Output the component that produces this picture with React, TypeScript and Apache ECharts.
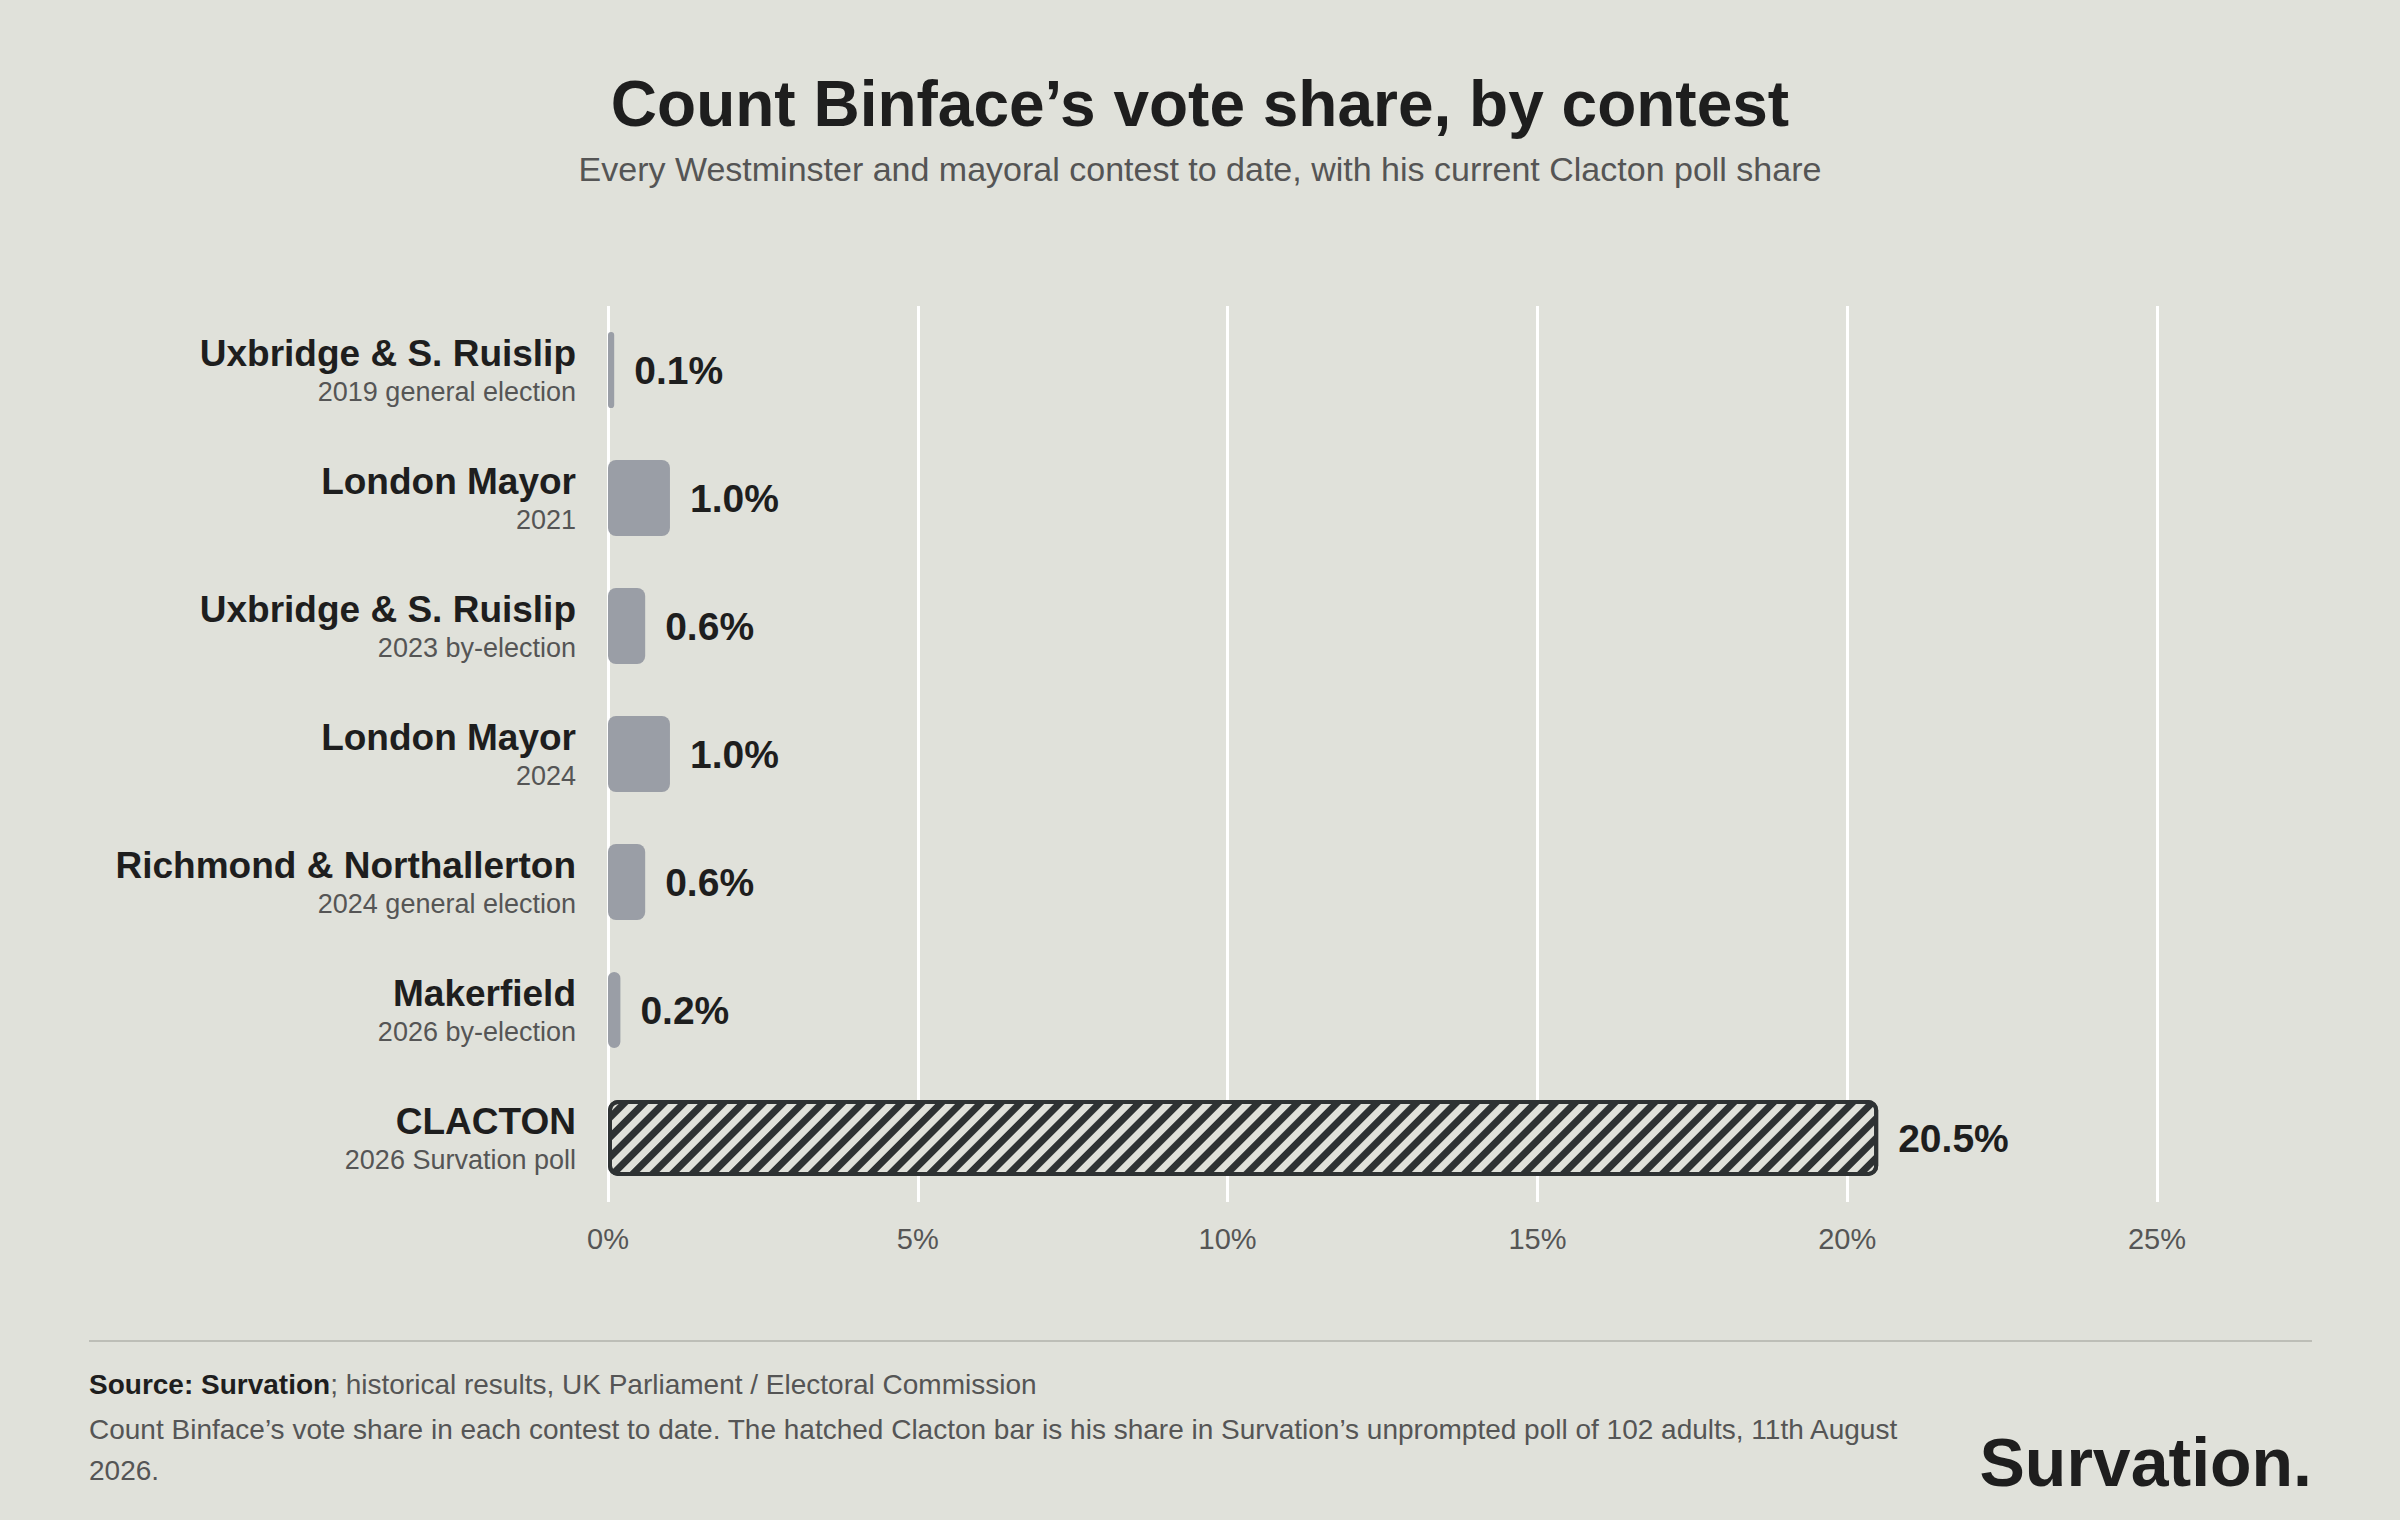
import { useEffect, useRef } from "react";
import * as echarts from "echarts";

const contests = [
  "Uxbridge & S. Ruislip",
  "London Mayor",
  "Uxbridge & S. Ruislip",
  "London Mayor",
  "Richmond & Northallerton",
  "Makerfield",
  "CLACTON",
];
const subtitles = [
  "2019 general election",
  "2021",
  "2023 by-election",
  "2024",
  "2024 general election",
  "2026 by-election",
  "2026 Survation poll",
];
const shares = [0.1, 1.0, 0.6, 1.0, 0.6, 0.2, 20.5];

const BG = "#e0e1da";
const FONT = "'Liberation Sans', Arial, sans-serif";

export default function App() {
  const ref = useRef<HTMLDivElement | null>(null);

  useEffect(() => {
    document.body.style.margin = "0";
    if (!ref.current) return;
    const chart = echarts.init(ref.current, null, { renderer: "svg" });
    const last = shares.length - 1;
    chart.setOption({
      animation: false,
      backgroundColor: BG,
      aria: { enabled: true, decal: { show: true } },
      textStyle: { fontFamily: FONT },
      grid: { left: 608, right: 243, top: 306, bottom: 318 },
      xAxis: {
        type: "value",
        min: 0,
        max: 25,
        interval: 5,
        axisLine: { show: false },
        axisTick: { show: false },
        splitLine: { lineStyle: { color: "#ffffff", width: 3 } },
        axisLabel: { formatter: "{value}%", fontSize: 29, color: "#555555", margin: 22, fontFamily: FONT },
      },
      yAxis: {
        type: "category",
        inverse: true,
        data: contests,
        axisLine: { show: false },
        axisTick: { show: false },
        axisLabel: {
          margin: 32,
          align: "right",
          formatter: (v: string, i: number) => `{a|${v}}\n{b|${subtitles[i]}}`,
          rich: {
            a: { fontSize: 37, fontWeight: "bold", color: "#1e1e1e", lineHeight: 44, align: "right", fontFamily: FONT },
            b: { fontSize: 27, color: "#555555", lineHeight: 34, align: "right", fontFamily: FONT },
          },
        },
      },
      series: [
        {
          type: "bar",
          barWidth: 76,
          data: shares.map((v, i) =>
            i === last
              ? {
                  value: v,
                  itemStyle: {
                    color: BG,
                    borderColor: "#2e3233",
                    borderWidth: 4,
                    borderRadius: 8,
                    decal: {
                      symbol: "rect",
                      color: "#2e3233",
                      backgroundColor: BG,
                      dashArrayX: [1, 0],
                      dashArrayY: [7, 7],
                      rotation: -Math.PI / 4,
                    },
                  },
                }
              : { value: v, itemStyle: { color: "#9a9ea6", borderRadius: 8, decal: "none" } }
          ),
          label: {
            show: true,
            position: "right",
            distance: 20,
            formatter: (p: any) => `${p.value.toFixed(1)}%`,
            fontSize: 39,
            fontWeight: "bold",
            color: "#1e1e1e",
            fontFamily: FONT,
          },
        },
      ],
      graphic: [
        {
          type: "text",
          left: "center",
          top: 72,
          style: { text: "Count Binface’s vote share, by contest", fontSize: 64, fontWeight: "bold", fill: "#1e1e1e", fontFamily: FONT },
        },
        {
          type: "text",
          left: "center",
          top: 152,
          style: {
            text: "Every Westminster and mayoral contest to date, with his current Clacton poll share",
            fontSize: 34,
            fill: "#555555",
            fontFamily: FONT,
          },
        },
        {
          type: "line",
          shape: { x1: 89, y1: 1341, x2: 2312, y2: 1341 },
          style: { stroke: "#bdbeb7", lineWidth: 2 },
        },
        {
          type: "text",
          left: 89,
          top: 1370,
          style: {
            text: "{s|Source: Survation}{t|; historical results, UK Parliament / Electoral Commission}",
            rich: {
              s: { fontSize: 28, fontWeight: "bold", fill: "#1e1e1e", fontFamily: FONT },
              t: { fontSize: 28, fill: "#555555", fontFamily: FONT },
            },
          },
        },
        {
          type: "text",
          left: 89,
          top: 1409,
          style: {
            text:
              "Count Binface’s vote share in each contest to date. The hatched Clacton bar is his share in Survation’s unprompted poll of 102 adults, 11th August\n2026.",
            fontSize: 28,
            lineHeight: 41,
            fill: "#555555",
            fontFamily: FONT,
          },
        },
        {
          type: "text",
          right: 88,
          top: 1428,
          style: { text: "Survation.", fontSize: 68, fontWeight: "bold", fill: "#1e1e1e", fontFamily: FONT },
        },
      ],
    });
    return () => chart.dispose();
  }, []);

  return <div ref={ref} style={{ width: 2400, height: 1520 }} />;
}
